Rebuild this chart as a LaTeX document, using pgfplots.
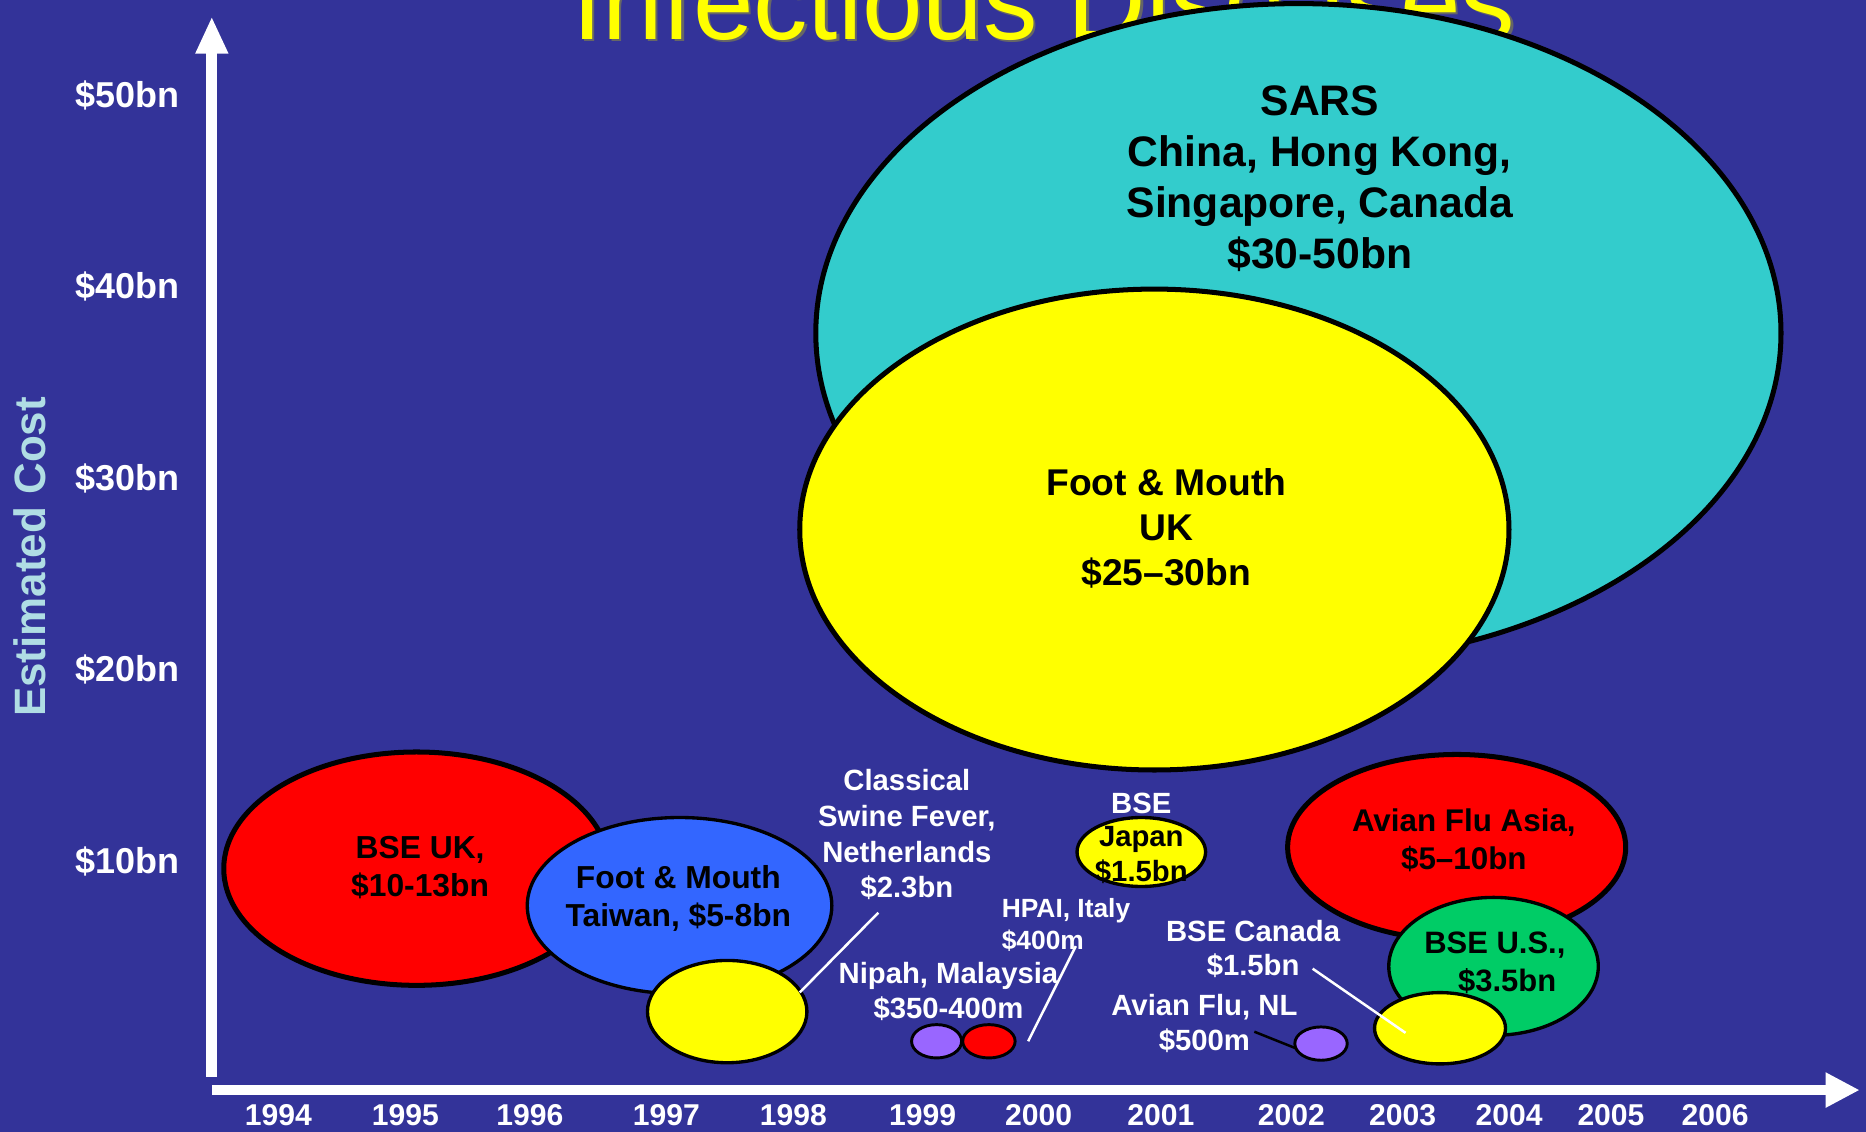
\documentclass[border=0pt]{standalone}
\usepackage{fontspec}
\setmainfont{Liberation Sans}
\usepackage{pgfplots}
\pgfplotsset{compat=1.18}

\definecolor{bgblue}{HTML}{333399}
\definecolor{sarscol}{HTML}{33CCCC}
\definecolor{yel}{HTML}{FFFF00}
\definecolor{redc}{HTML}{FF0000}
\definecolor{bluec}{HTML}{3366FF}
\definecolor{purp}{HTML}{9966FF}
\definecolor{greenc}{HTML}{00CC66}
\definecolor{labblue}{HTML}{B0DDE4}

% axis units (one year, one billion)
\newcommand\xu{1.006cm}
\newcommand\yu{0.161cm}
\newcommand\fs[2]{\fontsize{#1}{#2}\selectfont\bfseries}

% bubble = ellipse whose half axes come from the table (data units)
\pgfdeclareplotmark{ellipse}{%
  \pgfpathellipse{\pgfpointorigin}{\pgfpoint{\bubrx*\xu}{0pt}}{\pgfpoint{0pt}{\bubry*\yu}}%
  \pgfusepathqfillstroke}

\pgfplotsset{
  bubble/.style 2 args={only marks, scatter, mark=ellipse,
    scatter/use mapped color={draw=black, fill=#1, line width=#2},
    visualization depends on={value \thisrow{rx} \as \bubrx},
    visualization depends on={value \thisrow{ry} \as \bubry}},
}
\tikzset{lab/.style={align=center, inner sep=1pt}}

\begin{document}
\begin{tikzpicture}
\begin{axis}[
  name=ax,
  scale only axis,
  x=\xu, y=\yu,
  xmin=1991.674, xmax=2007.260,
  ymin=-4.099, ymax=54.969,
  clip marker paths=true,
  axis line style={draw=none},
  major tick length=0pt,
  axis background/.style={fill=bgblue},
  xtick={1994,1995.06,1996.10,1997.24,1998.30,1999.38,2000.35,2001.37,2002.46,2003.39,2004.28,2005.13,2006},
  xticklabels={1994,1995,1996,1997,1998,1999,2000,2001,2002,2003,2004,2005,2006},
  xticklabel style={anchor=center, yshift=0.14cm, text=white, font=\fs{7.2}{8}},
  ytick={10,20,30,40,50},
  yticklabels={\$10bn,\$20bn,\$30bn,\$40bn,\$50bn},
  yticklabel style={anchor=east, xshift=1.63cm, text=white, font=\fs{8.6}{10}},
  ylabel={Estimated Cost},
  every axis y label/.style={at={(rel axis cs:0.0159,0.5079)}, rotate=90, anchor=center,
    text=labblue, font=\fs{10.5}{12}},
]

% title sits behind the bubbles and runs off the top
\node[anchor=base, text=black!60, font=\fontsize{26}{30}\selectfont]
  at ([xshift=0.6pt,yshift=-0.6pt]rel axis cs:0.5593,0.9653) {Infectious Diseases};
\node[anchor=base, text=yel, font=\fontsize{26}{30}\selectfont]
  at (rel axis cs:0.5593,0.9653) {Infectious Diseases};

% arrows
\draw[white, line width=0.09cm] (axis cs:1993.443,-1.242) -- (axis cs:1993.443,52.3);
\fill[white] (axis cs:1993.304,52.17) -- (axis cs:1993.583,52.17) -- (axis cs:1993.443,54.04) -- cycle;
\draw[white, line width=0.09cm] (axis cs:1993.443,-1.925) -- (axis cs:2006.95,-1.925);
\fill[white] (axis cs:2006.922,-0.994) -- (axis cs:2006.922,-2.857) -- (axis cs:2007.201,-1.925) -- cycle;

% bubbles: centre (year, $bn) and half axes
\addplot[bubble={sarscol}{1.2pt}] table {
x y rx ry
2002.519 37.58 4.031 17.20
};
\addplot[bubble={yel}{1.2pt}] table {
x y rx ry
2001.316 27.33 2.962 12.55
};
\addplot[bubble={redc}{1.2pt}] table {
x y rx ry
1995.153 9.63 1.610 6.09
};
\addplot[bubble={bluec}{0.8pt}] table {
x y rx ry
1997.350 7.70 1.272 4.60
};
\addplot[bubble={yel}{0.8pt}] table {
x y rx ry
1997.748 2.17 0.666 2.67
};
\addplot[bubble={yel}{0.8pt}] table {
x y rx ry
2001.207 10.50 0.537 1.80
};
\addplot[bubble={purp}{0.7pt}] table {
x y rx ry
1999.497 0.62 0.209 0.87
};
\addplot[bubble={redc}{0.7pt}] table {
x y rx ry
1999.934 0.62 0.219 0.87
};
\addplot[bubble={purp}{0.7pt}] table {
x y rx ry
2002.708 0.50 0.219 0.87
};
\addplot[bubble={redc}{1.2pt}] table {
x y rx ry
2003.841 10.75 1.412 4.84
};
\addplot[bubble={greenc}{0.8pt}] table {
x y rx ry
2004.149 4.53 0.875 3.60
};
\addplot[bubble={yel}{0.8pt}] table {
x y rx ry
2003.702 1.30 0.547 1.86
};

% leader lines
\addplot[white, line width=0.6pt] coordinates {(1998.354,3.17) (1999.010,7.33)};
\addplot[white, line width=0.6pt] coordinates {(2000.660,5.59) (2000.262,0.62)};
\addplot[white, line width=0.6pt] coordinates {(2002.638,4.41) (2003.414,1.06)};
\addplot[black, line width=0.6pt] coordinates {(2002.151,1.12) (2002.499,0.25)};

% labels
\node[lab, text=black, font=\fs{10.2}{12.2}] at (axis cs:2002.698,45.62)
  {SARS\\China, Hong Kong,\\Singapore, Canada\\\$30-50bn};
\node[lab, text=black, font=\fs{8.9}{10.8}] at (axis cs:2001.416,27.39)
  {Foot \& Mouth\\UK\\\$25--30bn};
\node[lab, text=black, font=\fs{7.6}{9.1}] at (axis cs:1995.183,9.69)
  {BSE UK,\\\$10-13bn};
\node[lab, text=black, font=\fs{7.6}{9.1}] at (axis cs:1997.340,8.07)
  {Foot \& Mouth\\Taiwan, \$5-8bn};
\node[lab, text=white, font=\fs{7}{8.5}] at (axis cs:1999.249,11.40)
  {Classical\\Swine Fever,\\Netherlands\\\$2.3bn};
\node[lab, text=white, font=\fs{7}{8.25}] at (axis cs:2001.207,13.04) {BSE};
\node[lab, text=black, font=\fs{7}{8.25}] at (axis cs:2001.207,10.34)
  {Japan\\\$1.5bn};
\node[lab, text=white, font=\fs{6.3}{7.7}, align=left, anchor=west] at (axis cs:2000.000,6.68)
  {HPAI, Italy\\\$400m};
\node[lab, text=white, font=\fs{7}{8.5}] at (axis cs:1999.596,3.23)
  {Nipah, Malaysia\\\$350-400m};
\node[lab, text=white, font=\fs{7}{8.25}] at (axis cs:2002.141,5.43)
  {BSE Canada\\\$1.5bn};
\node[lab, text=white, font=\fs{7}{8.5}] at (axis cs:2001.734,1.55)
  {Avian Flu, NL\\\$500m};
\node[lab, text=black, font=\fs{7.5}{9.1}] at (axis cs:2003.901,11.12)
  {Avian Flu Asia,\\\$5--10bn};
\node[lab, text=black, font=\fs{7.4}{9.1}] at (axis cs:2004.160,4.72)
  {BSE U.S.,\\\hspace*{0.8em}\$3.5bn};
\end{axis}
\pgfresetboundingbox
\path[use as bounding box] (ax.south west) rectangle (ax.north east);
\end{tikzpicture}
\end{document}
